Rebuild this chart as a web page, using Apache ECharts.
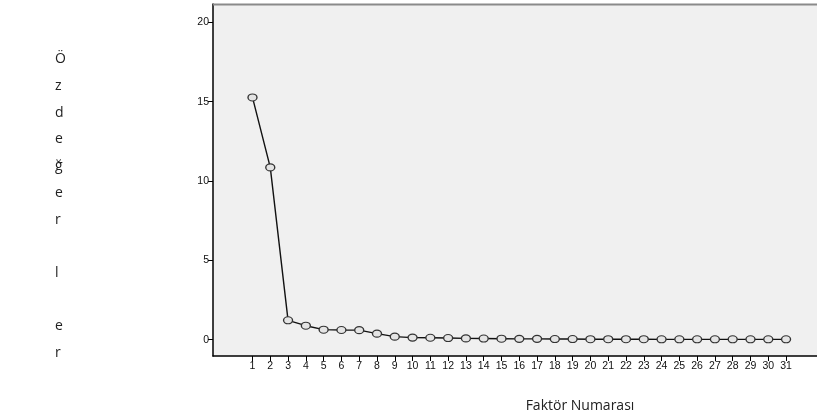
<!DOCTYPE html>
<html><head><meta charset="utf-8">
<script src="https://cdn.jsdelivr.net/npm/echarts@6/dist/echarts.min.js"></script>
<style>html,body{margin:0;padding:0;background:#fff}#c{width:817px;height:418px}</style>
</head><body><div id="c"></div>
<script>
const factors = [1,2,3,4,5,6,7,8,9,10,11,12,13,14,15,16,17,18,19,20,21,22,23,24,25,26,27,28,29,30,31];
const eigenvalues = [15.27,10.86,1.22,0.88,0.63,0.61,0.60,0.38,0.19,0.13,0.12,0.10,0.08,0.07,0.06,0.05,0.05,0.04,0.04,0.03,0.03,0.03,0.03,0.02,0.02,0.02,0.02,0.02,0.02,0.02,0.02];
const yTicks = [0,5,10,15,20];
const xTitle = 'Faktör Numarası';
const yTitleLetters = ['Ö','z','d','e','ğ','e','r','','l','','e','r'];

const chart = echarts.init(document.getElementById('c'));
const lblFont = {fontFamily:'Liberation Sans, Arial, sans-serif', fontSize:10.5, color:'#111'};
chart.setOption({
  animation:false,
  backgroundColor:'#fff',
  grid:{left:213, right:0, top:4, bottom:62, show:true, backgroundColor:'#f0f0f0', borderWidth:0},
  xAxis:{type:'value', min:-1.22, max:32.74,
    axisLine:{show:true, onZero:false, lineStyle:{color:'#000', width:1.5}},
    axisTick:{show:true, length:5, lineStyle:{color:'#000'}, customValues:factors},
    axisLabel:Object.assign({customValues:factors, margin:5}, lblFont),
    splitLine:{show:false}
  },
  yAxis:{type:'value', min:-1.03, max:21.16,
    axisLine:{show:true, onZero:false, lineStyle:{color:'#000', width:1.5}},
    axisTick:{show:true, length:5, lineStyle:{color:'#000'}, customValues:yTicks},
    axisLabel:Object.assign({customValues:yTicks, margin:4}, lblFont),
    splitLine:{show:false}
  },
  graphic:[
    {type:'line', shape:{x1:213, y1:4.5, x2:817, y2:4.5}, style:{stroke:'#8a8a8a', lineWidth:2}, z:10},
    {type:'text', left:55, top:46, style:{
      text: yTitleLetters.join('\n'), fontFamily:'Open Sans, Lato, sans-serif', fontSize:14,
      lineHeight:26.7, fill:'#222', align:'center'}},
    {type:'text', x:580, y:406, style:{
      text: xTitle, fontFamily:'Open Sans, Lato, sans-serif', fontSize:14,
      fill:'#222', align:'center', verticalAlign:'middle'}}
  ],
  series:[{
    type:'line',
    data: factors.map((f,i)=>[f, eigenvalues[i]]),
    symbol:'circle', symbolSize:[9,7],
    lineStyle:{color:'#111', width:1.4},
    itemStyle:{color:'#e4e4e4', borderColor:'#333', borderWidth:1.2},
    clip:false
  }]
});
</script></body></html>
